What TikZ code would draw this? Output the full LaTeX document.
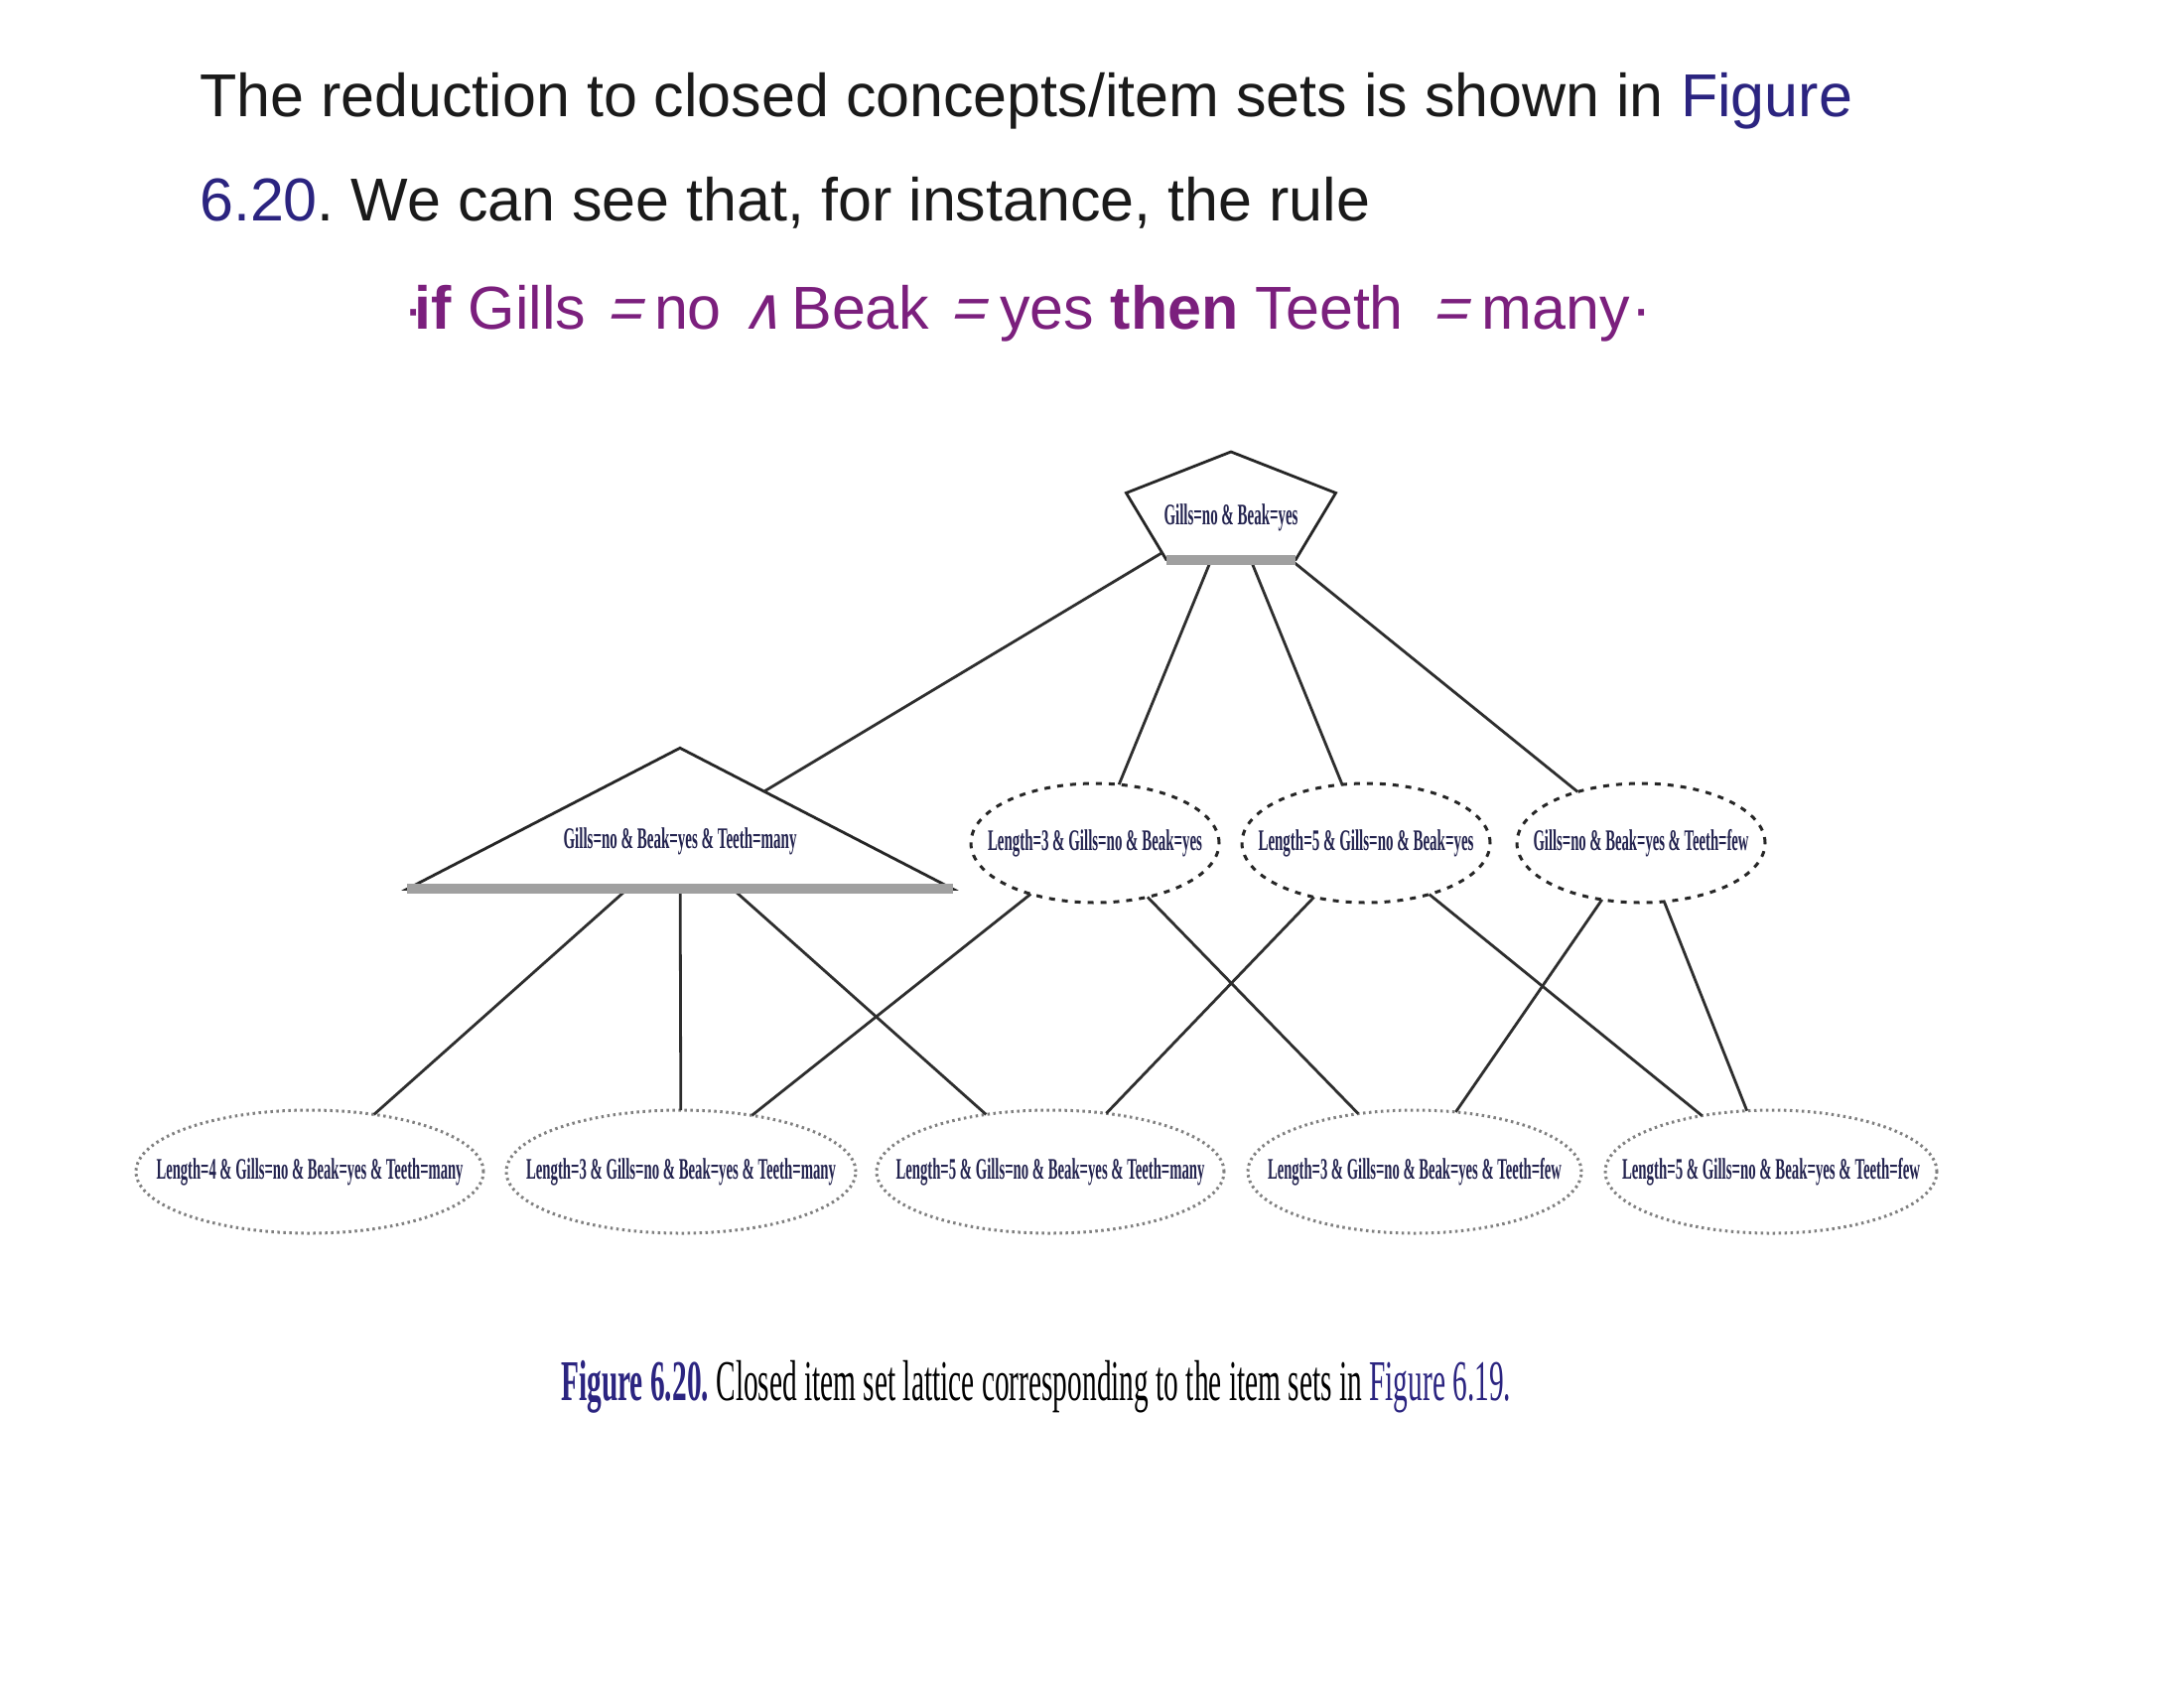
\documentclass[tikz,border=0pt]{standalone}
\usepackage{fontspec}
\usepackage{graphicx}
\setmainfont{Liberation Sans}
\newfontfamily\lblfont{Liberation Serif}
\newfontfamily\capfont{Liberation Serif}
\newfontfamily\slantsym[FakeSlant=0.25]{Liberation Sans}
\newfontfamily\wedgefont[FakeSlant=0.25]{DejaVu Sans}
\usetikzlibrary{shapes.geometric}

\definecolor{inkblack}{HTML}{1A1A1A}
\definecolor{linknavy}{HTML}{2B2480}
\definecolor{rulepurple}{HTML}{7B1F7D}
\definecolor{lblink}{HTML}{23234F}
\definecolor{bargray}{HTML}{A0A0A0}

% item-set label squeezed to a given width
\newcommand{\setlabel}[2]{\resizebox{#1pt}{\height}{\lblfont\bfseries\fontsize{30pt}{30pt}\selectfont\color{lblink}#2}}
\newcommand{\eqsym}{{\slantsym =}}
\newcommand{\andsym}{{\wedgefont\fontsize{58pt}{58pt}\selectfont ∧}}

\tikzset{
  edge/.style={line width=2.8pt, draw=black!82},
  midset/.style={ellipse, draw=black!85, line width=3pt, dash pattern=on 6pt off 7pt,
    minimum width=250pt, minimum height=120pt, inner sep=0pt, outer sep=0pt},
  leafset/.style={ellipse, draw=black!50, line width=3pt, dash pattern=on 2.5pt off 3.5pt,
    minimum height=124pt, inner sep=0pt, outer sep=0pt},
  concept/.style={regular polygon, draw=black!85, line width=2.8pt, inner sep=0pt,
    outer sep=0pt, minimum size=20pt, transform shape},
  basebar/.style={line width=10pt, draw=bargray},
  slidetext/.style={anchor=base west, inner sep=0pt, text=inkblack,
    font=\fontsize{61pt}{61pt}\selectfont},
}

\begin{document}
\frenchspacing
\begin{tikzpicture}[x=1pt, y=-1pt]
\path[use as bounding box, fill=white] (0,0) rectangle (2200,1700);

% slide text
\node[slidetext] (line1) at (201,117)
  {The reduction to closed concepts/item sets is shown in \textcolor{linknavy}{Figure}};
\node[slidetext] (line2) at (201,222)
  {\textcolor{linknavy}{6.20}. We can see that, for instance, the rule};
\node[slidetext, text=rulepurple] (rule) at (406,331)
  {·\hspace{-9pt}\textbf{if} Gills\hspace{20pt}\eqsym\hspace{13pt}no\hspace{20pt}\andsym\hspace{8pt}Beak\hspace{20pt}\eqsym\hspace{15pt}yes \textbf{then} Teeth\hspace{29pt}\eqsym\hspace{14pt}many\hspace{2pt}·};

% closed concepts with a generating shape
\begin{scope}[shift={(1240,515)}, xscale=11.1, yscale=6]
  \node[concept, regular polygon sides=5] (pent) at (0,0) {};
\end{scope}
\begin{scope}[shift={(685,848)}, xscale=31.75, yscale=9.47]
  \node[concept, regular polygon sides=3] (tri) at (0,0) {};
\end{scope}
\node[inner sep=0pt] (pentlbl) at (1240,521) {\setlabel{135}{Gills=no \& Beak=yes}};
\node[inner sep=0pt] (trilbl) at (685,847) {\setlabel{235}{Gills=no \& Beak=yes \& Teeth=many}};

% middle level
\node[midset] (m1) at (1103,849) {\makebox[0pt]{\setlabel{216}{Length=3 \& Gills=no \& Beak=yes}}};
\node[midset] (m2) at (1376,849) {\makebox[0pt]{\setlabel{217}{Length=5 \& Gills=no \& Beak=yes}}};
\node[midset] (m3) at (1653,849) {\makebox[0pt]{\setlabel{217}{Gills=no \& Beak=yes \& Teeth=few}}};

% bottom level
\node[leafset, minimum width=350pt] (b1) at (312,1180) {\makebox[0pt]{\setlabel{309}{Length=4 \& Gills=no \& Beak=yes \& Teeth=many}}};
\node[leafset, minimum width=352pt] (b2) at (686,1180) {\makebox[0pt]{\setlabel{312}{Length=3 \& Gills=no \& Beak=yes \& Teeth=many}}};
\node[leafset, minimum width=350pt] (b3) at (1058,1180) {\makebox[0pt]{\setlabel{311}{Length=5 \& Gills=no \& Beak=yes \& Teeth=many}}};
\node[leafset, minimum width=336pt] (b4) at (1425,1180) {\makebox[0pt]{\setlabel{296}{Length=3 \& Gills=no \& Beak=yes \& Teeth=few}}};
\node[leafset, minimum width=334pt] (b5) at (1784,1180) {\makebox[0pt]{\setlabel{300}{Length=5 \& Gills=no \& Beak=yes \& Teeth=few}}};

% lattice edges
\draw[edge] (pent) -- (tri);
\draw[edge] (pent) -- (m1);
\draw[edge] (pent) -- (m2);
\draw[edge] (pent) -- (m3);
\draw[edge] (tri) -- (b1);
\draw[edge] (tri) -- (b2);
\draw[edge] (tri) -- (b3);
\draw[edge] (m1) -- (b2);
\draw[edge] (m1) -- (b4);
\draw[edge] (m2) -- (b3);
\draw[edge] (m2) -- (b5);
\draw[edge] (m3) -- (b4);
\draw[edge] (m3) -- (b5);

% shaded bases
\draw[basebar] (pent.corner 3) -- (pent.corner 4);
\draw[basebar] (tri.corner 2) -- (tri.corner 3);

% caption
\node[anchor=base west, inner sep=0pt] (caption) at (565,1410)
  {\resizebox{957pt}{\height}{\capfont\fontsize{58pt}{58pt}\selectfont
   \textcolor{linknavy}{\bfseries Figure 6.20.} Closed item set lattice corresponding to the item sets in \textcolor{linknavy}{Figure 6.19.}}};
\end{tikzpicture}
\end{document}
